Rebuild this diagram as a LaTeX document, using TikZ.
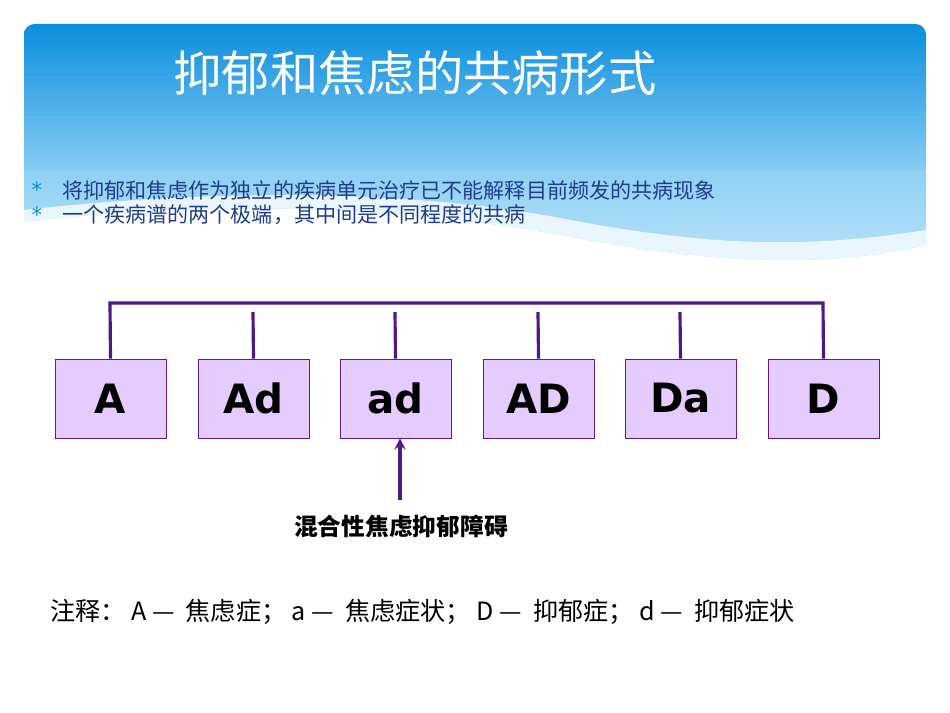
\documentclass[tikz,border=0pt]{standalone}
\usepackage{fontspec}
\setmainfont{Noto Sans CJK SC}
\newfontfamily\dvs{DejaVu Sans}
\begin{document}
\begin{tikzpicture}[x=0.02cm,y=-0.02cm,
  box/.style={draw=boxline,fill=boxfill,minimum width=2.22cm,minimum height=1.58cm,inner sep=0pt,font=\dvs\fontsize{23}{25}\selectfont\bfseries},
  conn/.style={draw=connc,line width=1.8pt}]
\definecolor{boxfill}{HTML}{E5CCFF}
\definecolor{boxline}{HTML}{5C1A8A}
\definecolor{connc}{HTML}{4B1A86}
\definecolor{btop}{HTML}{0A8EDD}
\definecolor{bbot}{HTML}{8FD0F5}
\definecolor{txtblue}{HTML}{1F3D8C}
\useasboundingbox (0,0) rectangle (950,713);
\fill[white] (0,0) rectangle (950,713);
% banner
\shade[top color=btop,bottom color=bbot,rounded corners=6pt] (24,24) -- (926,24) -- (926,180) -- (24,180) -- cycle;
\shade[top color=bbot,bottom color=bbot!60] (24,170) -- (926,170) -- (926,245) .. controls (820,270) and (700,262) .. (560,235) .. controls (400,205) and (200,200) .. (24,222) -- cycle;
\fill[white!80!bbot] (24,222) .. controls (200,200) and (400,205) .. (560,235) .. controls (700,262) and (820,270) .. (926,245) -- (926,230) .. controls (800,250) and (700,245) .. (560,218) .. controls (400,188) and (200,190) .. (24,210) -- cycle;
\node[text=white,font=\fontsize{27.5}{30}\selectfont] (title) at (415,73) {抑郁和焦虑的共病形式};
\node[anchor=west,text=txtblue,font=\fontsize{12}{14}\selectfont] (b1) at (56,190) {将抑郁和焦虑作为独立的疾病单元治疗已不能解释目前频发的共病现象};
\node[anchor=west,text=txtblue,font=\fontsize{12}{14}\selectfont] (b2) at (56,215) {一个疾病谱的两个极端，其中间是不同程度的共病};
\node[text=btop,font=\dvs\large] (s1) at (37,190) {*};
\node[text=btop,font=\dvs\large] (s2) at (37,215) {*};
% boxes
\node[box] (A) at (110.5,398.5) {A};
\node[box] (Ad) at (253.5,398.5) {Ad};
\node[box] (ad) at (395.5,398.5) {ad};
\node[box] (AD) at (538.5,398.5) {AD};
\node[box] (Da) at (680.5,398.5) {Da};
\node[box] (D) at (823.5,398.5) {D};
\draw[conn] (A.north) -- (110,303) -- (823,303) -- (D.north);
\foreach \n/\x in {Ad/253,ad/395,AD/538,Da/680}{\coordinate (t\n) at (\x,312); \draw[conn] (t\n) -- (\n.north);}
\coordinate (arrs) at (400,500);
\draw[conn,-stealth] (arrs) -- (ad.south -| arrs);
\node[font=\fontsize{13.5}{15}\selectfont\bfseries] (lab) at (401,526) {混合性焦虑抑郁障碍};
\node[anchor=west,font=\fontsize{14.3}{16}\selectfont] (note) at (44,612) {注释：\ A — \ 焦虑症； a — \ 焦虑症状； D — \ 抑郁症； d — \ 抑郁症状};
\end{tikzpicture}
\end{document}
